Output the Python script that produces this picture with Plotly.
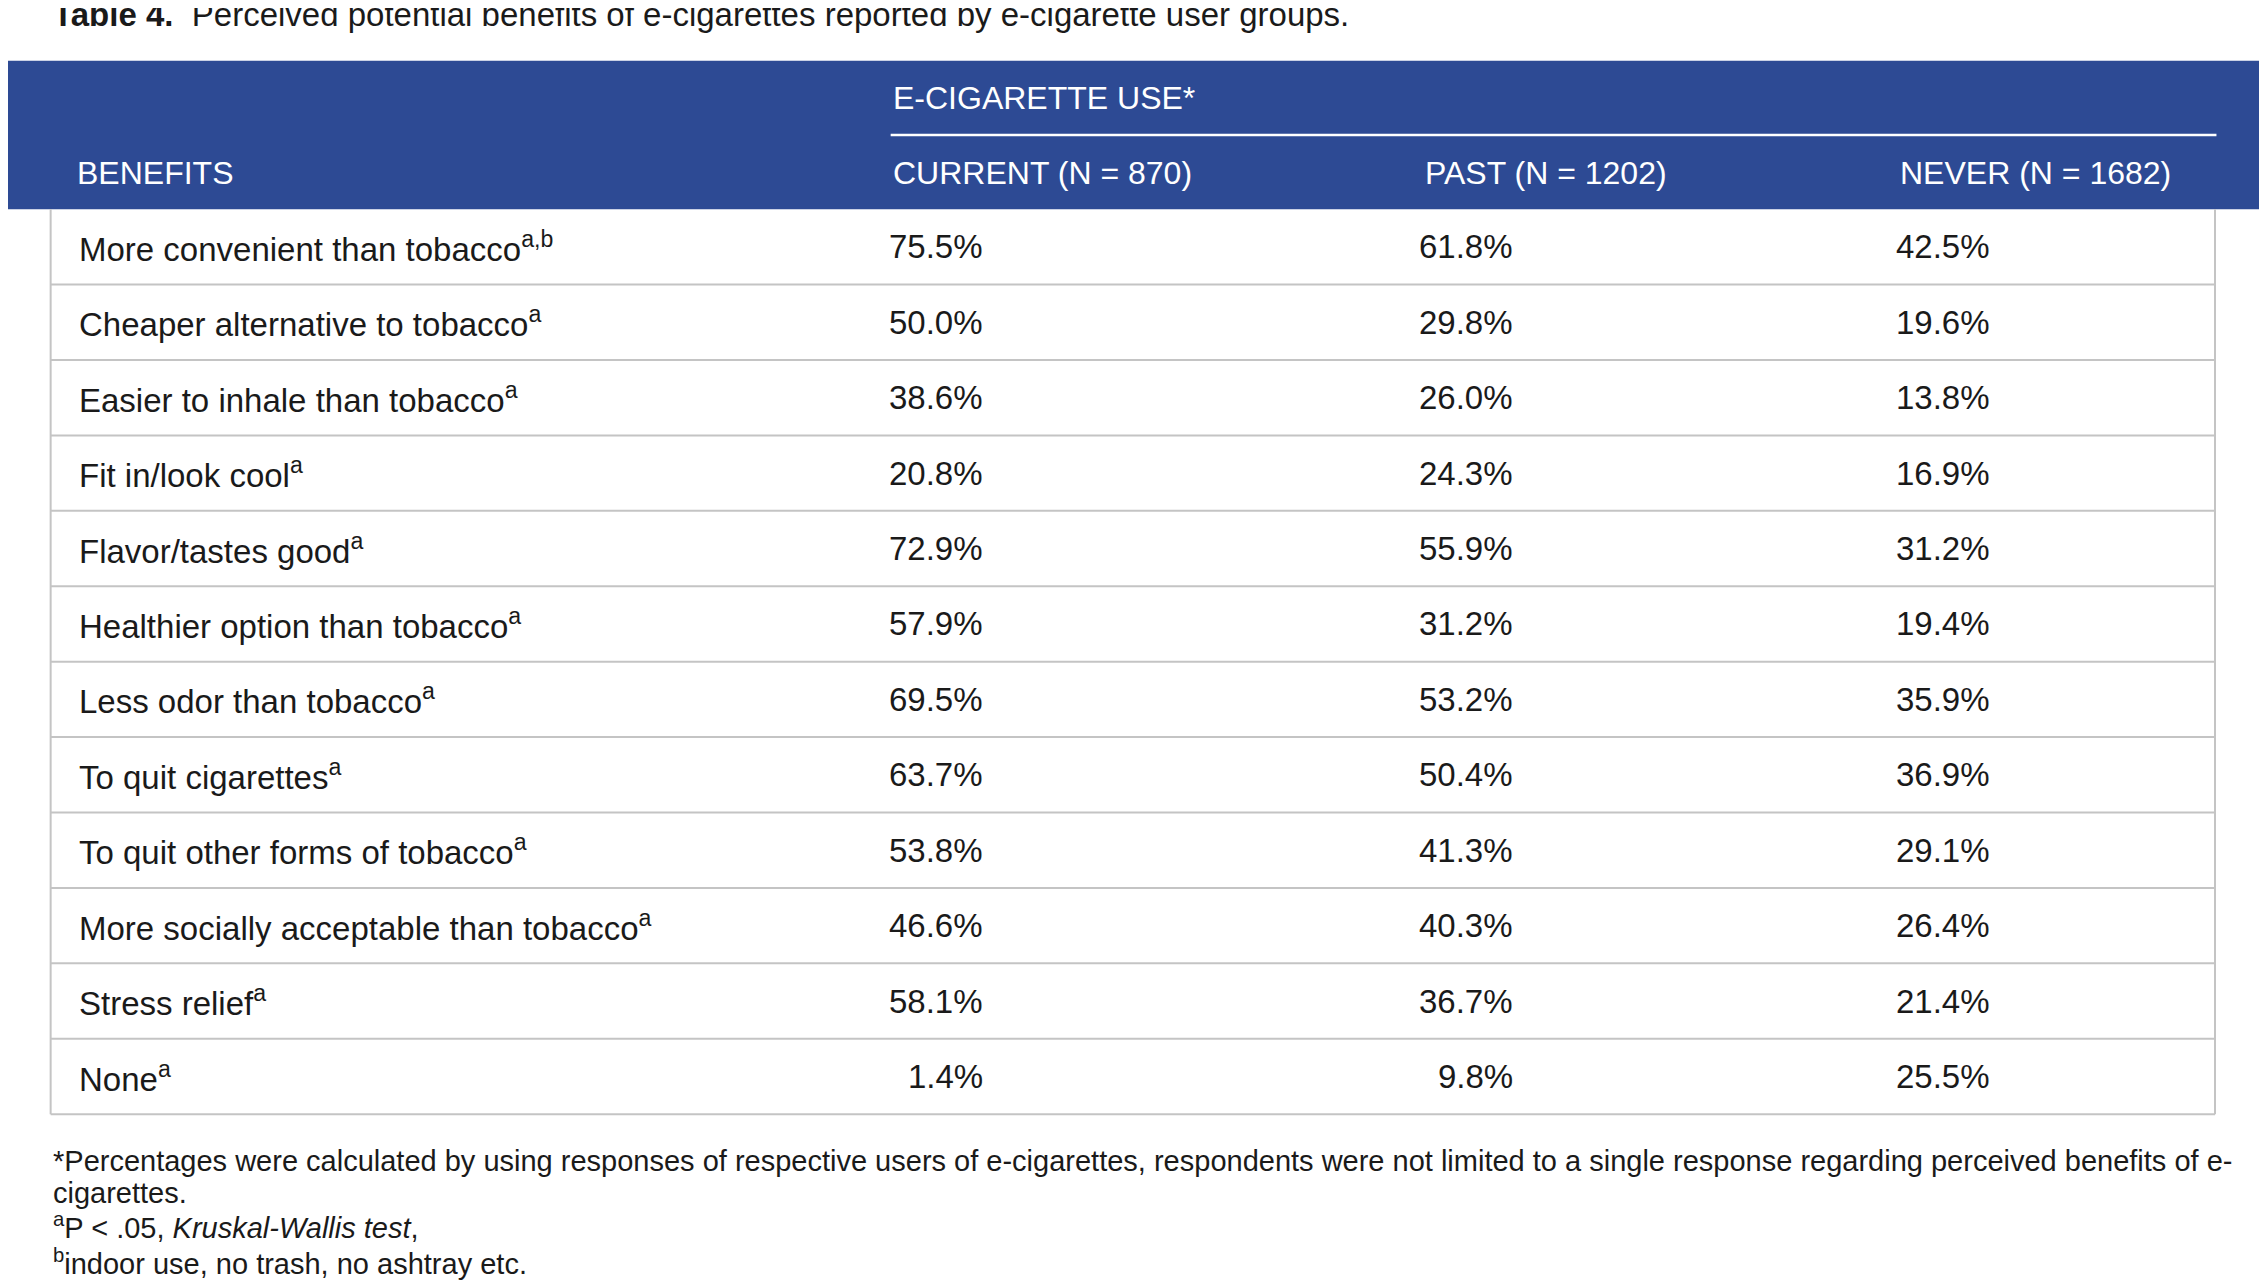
import plotly.graph_objects as go

title_bold = "Table 4."
title_text = "Perceived potential benefits of e-cigarettes reported by e-cigarette user groups."
group_label = "E-CIGARETTE USE*"
col_headers = ["BENEFITS", "CURRENT (N = 870)", "PAST (N = 1202)", "NEVER (N = 1682)"]
benefits = ["More convenient than tobacco", "Cheaper alternative to tobacco", "Easier to inhale than tobacco",
            "Fit in/look cool", "Flavor/tastes good", "Healthier option than tobacco", "Less odor than tobacco",
            "To quit cigarettes", "To quit other forms of tobacco", "More socially acceptable than tobacco",
            "Stress relief", "None"]
sups = ["a,b", "a", "a", "a", "a", "a", "a", "a", "a", "a", "a", "a"]
current = ["75.5%", "50.0%", "38.6%", "20.8%", "72.9%", "57.9%", "69.5%", "63.7%", "53.8%", "46.6%", "58.1%", "1.4%"]
past = ["61.8%", "29.8%", "26.0%", "24.3%", "55.9%", "31.2%", "53.2%", "50.4%", "41.3%", "40.3%", "36.7%", "9.8%"]
never = ["42.5%", "19.6%", "13.8%", "16.9%", "31.2%", "19.4%", "35.9%", "36.9%", "29.1%", "26.4%", "21.4%", "25.5%"]
footnotes = ["*Percentages were calculated by using responses of respective users of e-cigarettes, respondents were not limited to a single response regarding perceived benefits of e-",
             "cigarettes.",
             "<sup>a</sup>P < .05, <i>Kruskal-Wallis test</i>,",
             "<sup>b</sup>indoor use, no trash, no ashtray etc."]

W, H = 1568, 889
OFF = 5.5
FONT = "Liberation Sans, Arial, sans-serif"
BLUE = "#2D4A94"
GRID = "#C4C4C4"
TXT = "#1a1a1a"
FS = 33

fig = go.Figure()
shapes, ann = [], []
shapes.append(dict(type="rect", x0=-10, x1=W + 20, y0=42, y1=145, fillcolor=BLUE, line_width=0, layer="below"))
shapes.append(dict(type="line", x0=616, x1=1533, y0=93.5, y1=93.5, line=dict(color="white", width=2.5)))
ann.append(dict(x=35, y=10, text=f"<b>{title_bold}</b>  {title_text}", xanchor="left", yanchor="middle",
                font=dict(size=33, color=TXT)))
ann.append(dict(x=616, y=68, text=group_label, xanchor="left", yanchor="middle", font=dict(size=32, color="white")))
for x, t in zip([52, 616, 984, 1313], col_headers):
    ann.append(dict(x=x, y=120, text=t, xanchor="left", yanchor="middle", font=dict(size=32, color="white")))

top, rh = 145, 52.3
n = len(benefits)
shapes.append(dict(type="line", x0=35, x1=35, y0=top, y1=top + n*rh, line=dict(color=GRID, width=2)))
shapes.append(dict(type="line", x0=1532, x1=1532, y0=top, y1=top + n*rh, line=dict(color=GRID, width=2)))
for i in range(1, n + 1):
    yl = top + i*rh
    shapes.append(dict(type="line", x0=35, x1=1532, y0=yl, y1=yl, line=dict(color=GRID, width=2)))
for i in range(n):
    yc = top + (i + 0.5)*rh
    ann.append(dict(x=53, y=yc, text=f"{benefits[i]}<sup>{sups[i]}</sup>", xanchor="left", yanchor="middle",
                    font=dict(size=FS, color=TXT)))
    for xr, vals in zip([681, 1048, 1378], [current, past, never]):
        ann.append(dict(x=xr, y=yc, text=vals[i], xanchor="right", yanchor="middle", font=dict(size=FS, color=TXT)))
for y, t in zip([805, 827, 850, 875], footnotes):
    ann.append(dict(x=35, y=y, text=t, xanchor="left", yanchor="middle", font=dict(size=29, color=TXT)))

for a in ann:
    a.update(xref="x", yref="y", showarrow=False)
for s in shapes:
    s.update(xref="x", yref="y")

fig.update_layout(width=2267, height=1282, autosize=False, margin=dict(l=0, r=0, t=0, b=0),
                  paper_bgcolor="white", plot_bgcolor="white", font=dict(family=FONT),
                  shapes=shapes, annotations=ann, showlegend=False,
                  xaxis=dict(range=[OFF, W + OFF], visible=False, fixedrange=True),
                  yaxis=dict(range=[H + OFF, OFF], visible=False, fixedrange=True))
fig.write_html("out.html")
